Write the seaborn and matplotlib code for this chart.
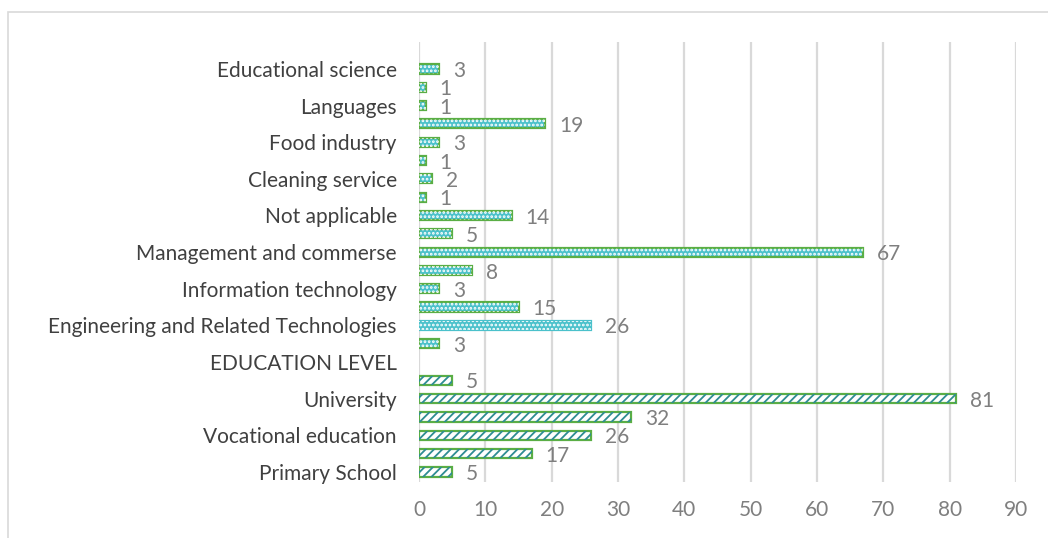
import matplotlib
matplotlib.use("Agg")
import matplotlib.pyplot as plt
from matplotlib.patches import Rectangle
import numpy as np
import pandas as pd
import seaborn as sns

# Row labels from top to bottom (unlabelled rows carry an empty string)
labels = [
    "Educational science", "", "Languages", "", "Food industry", "",
    "Cleaning service", "", "Not applicable", "", "Management and commerse", "",
    "Information technology", "", "Engineering and Related Technologies", "",
    "EDUCATION LEVEL", "", "University", "", "Vocational education", "",
    "Primary School",
]
values = [3, 1, 1, 19, 3, 1, 2, 1, 14, 5, 67, 8, 3, 15, 26, 3,
          np.nan, 5, 81, 32, 26, 17, 5]
groups = ["field"] * 16 + ["header"] + ["education"] * 6
x_ticks = [0, 10, 20, 30, 40, 50, 60, 70, 80, 90]

df = pd.DataFrame({
    "row": [f"row{i}" for i in range(len(labels))],
    "label": labels,
    "value": values,
    "group": groups,
})

sns.set_theme(style="white")
plt.rcParams["font.family"] = ["Lato", "DejaVu Sans"]
plt.rcParams["hatch.linewidth"] = 1.3

CYAN = "#4BC1CB"
GREEN = "#5AAE45"
TEAL = "#2E8C93"
GRID = "#D9D9D9"

fig = plt.figure(figsize=(10.48, 5.38), dpi=100)
ax = fig.add_axes([419 / 1048, 1 - 482 / 538, (1016 - 419) / 1048, (482 - 42) / 538])

sns.barplot(data=df, x="value", y="row", order=df["row"], orient="h",
            width=0.5, color=CYAN, errorbar=None, ax=ax, zorder=3)

# Style each bar according to its group and overlay its pattern
bars = list(ax.patches)
for patch in bars:
    x0, y0 = patch.get_x(), patch.get_y()
    w, h = patch.get_width(), patch.get_height()
    idx = int(round(y0 + h / 2))
    r = df.iloc[idx]
    if np.isnan(r["value"]):
        patch.set_visible(False)
        continue
    if r["group"] == "field":
        patch.set_facecolor(CYAN)
        no_edge = r["label"].startswith("Engineering")
        patch.set_edgecolor(CYAN if no_edge else GREEN)
        patch.set_linewidth(1.6)
        over = Rectangle((x0, y0), w, h, facecolor="none", edgecolor="white",
                         hatch="....", linewidth=0, zorder=4)
    else:
        patch.set_facecolor("white")
        patch.set_edgecolor(GREEN)
        patch.set_linewidth(1.6)
        over = Rectangle((x0, y0), w, h, facecolor="none", edgecolor=TEAL,
                         hatch="////", linewidth=0, zorder=4)
    ax.add_patch(over)
    ax.annotate(f"{int(r['value'])}", xy=(w, y0 + h / 2), xytext=(10, -1.5),
                textcoords="offset points", va="center", ha="left",
                fontsize=15, color="#7F7F7F")

ax.set_xlim(0, 90)
ax.set_xticks(x_ticks)
ax.set_ylim(len(labels) - 0.45, -1.47)
ax.set_yticks(range(len(labels)))
ax.set_yticklabels(labels)
ax.set_xlabel("")
ax.set_ylabel("")
ax.tick_params(axis="both", length=0)
ax.tick_params(axis="y", labelsize=15, labelcolor="#404040", pad=16)
ax.tick_params(axis="x", labelsize=15, labelcolor="#7F7F7F", pad=13)

ax.grid(axis="x", color=GRID, linewidth=1.6, zorder=0)
ax.set_axisbelow(True)
for s in ax.spines.values():
    s.set_visible(False)

# Light chart-area frame open on the right and bottom
fig.patches.append(Rectangle((8 / 1048, -0.5), 2, 1.5 - 12 / 538,
                             transform=fig.transFigure, fill=False,
                             edgecolor=GRID, linewidth=1.2))

fig.savefig("out.png", dpi=100)
